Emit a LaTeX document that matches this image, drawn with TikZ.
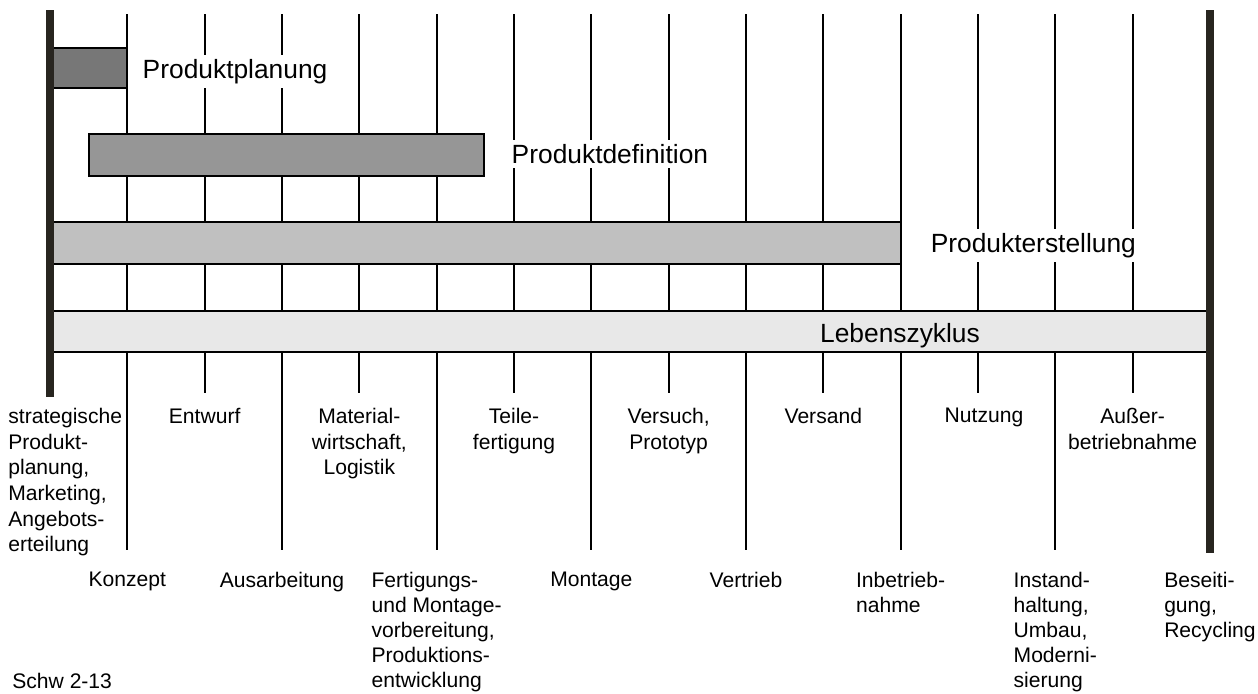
\documentclass[tikz,border=0pt]{standalone}
\usepackage{fontspec}
\setmainfont{Liberation Sans}
\usetikzlibrary{positioning}
\definecolor{ink}{RGB}{40,37,32}
\definecolor{plangray}{RGB}{119,119,119}
\definecolor{defgray}{RGB}{150,150,150}
\definecolor{makegray}{RGB}{192,192,192}
\definecolor{lifegray}{RGB}{232,232,232}
\newcommand{\comma}{,}

\begin{document}
\begin{tikzpicture}[x=0.2mm,y=-0.2mm,
    gridline/.style={line width=1.1pt},
    phasebar/.style={draw,line width=1pt},
    barlabel/.style={fill=white,inner sep=2.5pt,anchor=base west,font=\fontsize{15}{18}\selectfont},
    phasetop/.style={inner sep=0pt,anchor=north,align=center,font=\fontsize{12}{14.6}\selectfont},
    phasebot/.style={inner sep=0pt,anchor=north,align=left,font=\fontsize{12}{14.2}\selectfont}]
    \useasboundingbox (0,0) rectangle (1258,693);
    % phase lines, long ones at odd steps
    \foreach \i in {1,...,14}{
      \ifodd\i \draw[gridline] ({50+\i*77.33},14) -- ({50+\i*77.33},550);
      \else \draw[gridline] ({50+\i*77.33},14) -- ({50+\i*77.33},393);\fi
    }
    % bars
    \draw[phasebar,fill=plangray] (50,48) rectangle (127,88);
    \draw[phasebar,fill=defgray] (89,134) rectangle (484,176);
    \draw[phasebar,fill=makegray] (50,222) rectangle (901,264);
    \draw[phasebar,fill=lifegray] (50,311) rectangle (1210,352);
    \draw[ink,line width=4.5pt] (50,10) -- (50,397);
    \draw[ink,line width=4.5pt] (1210,10) -- (1210,553);
    \node[barlabel] (plan) at (138,78) {Produktplanung};
    \node[barlabel] (def) at (507,163) {Produktdefinition};
    \node[barlabel] (make) at (926,252) {Produkterstellung};
    \node[barlabel,fill=none,anchor=base] (life) at (900,342) {Lebenszyklus};
    % phases
    \node[phasetop,anchor=north west,align=left] (ph0) at (8,408)
      {strategische\\Produkt-\\planung\comma\\Marketing\comma\\Angebots-\\erteilung};
    \foreach \i/\t in {2/Entwurf, 4/Material-\\wirtschaft\comma\\Logistik, 6/Teile-\\fertigung,
      8/Versuch\comma\\Prototyp, 10/Versand, 14/Außer-\\betriebnahme}
    {
      \node[phasetop] (ph\i) at ({50+\i*77.33},408) {\t};
    }
    \node[phasetop] (ph12) at (984,408) {Nutzung};
    \foreach \i/\t in {1/Konzept, 3/Ausarbeitung,
      5/Fertigungs-\\und Montage-\\vorbereitung\comma\\Produktions-\\entwicklung,
      7/Montage, 9/Vertrieb, 11/Inbetrieb-\\nahme,
      13/Instand-\\haltung\comma\\Umbau\comma\\Moderni-\\sierung, 15/Beseiti-\\gung\comma\\Recycling}
    {
      \node[phasebot] (ph\i) at ({50+\i*77.33},572) {\t};
    }
    \node[inner sep=0pt,anchor=base west,font=\fontsize{12}{14.2}\selectfont] (src) at (12,688) {Schw 2-13};
  \end{tikzpicture}
\end{document}
